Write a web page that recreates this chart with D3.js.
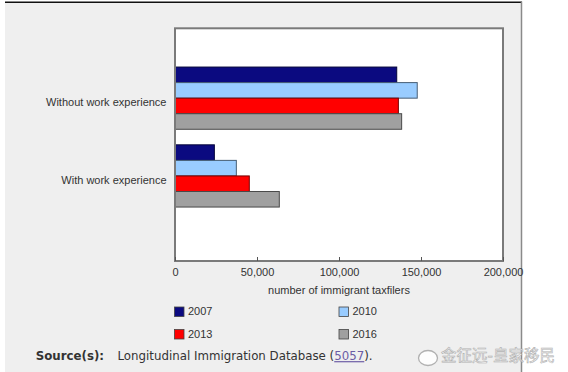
<!DOCTYPE html>
<html>
<head>
<meta charset="utf-8">
<script src="https://cdn.jsdelivr.net/npm/d3@7"></script>
<style>
  body { margin: 0; background: #fff; }
  svg { display: block; }
  .chart text { font-family: "Liberation Sans", Arial, sans-serif; font-size: 11px; fill: #333; }
  .src text { font-family: "DejaVu Sans", Verdana, sans-serif; font-size: 11.8px; fill: #333; }
</style>
</head>
<body>
<svg width="568" height="372"></svg>
<script>
// data
var categories = ["Without work experience", "With work experience"];
var years = ["2007", "2010", "2013", "2016"];
var values2007 = [135200, 24000];
var values2010 = [147700, 37400];
var values2013 = [136200, 45300];
var values2016 = [138200, 63600];
var xTicks = [0, 50000, 100000, 150000, 200000];
var colors = ["#0b0a80", "#99ccff", "#ff0000", "#a0a0a0"];
var xTitle = "number of immigrant taxfilers";

var series = [values2007, values2010, values2013, values2016];

var svg = d3.select("svg");

// panel background + borders
svg.append("rect")
    .attr("x", 5).attr("y", 2.5)
    .attr("width", 516.5).attr("height", 372)
    .attr("fill", "#efefef");
svg.append("line")
    .attr("x1", 5).attr("x2", 522).attr("y1", 2.2).attr("y2", 2.2)
    .attr("stroke", "#111").attr("stroke-width", 1.5);
svg.append("line")
    .attr("x1", 521.5).attr("x2", 521.5).attr("y1", 1.5).attr("y2", 372)
    .attr("stroke", "#8a8a8a").attr("stroke-width", 1.5);

var plot = {left: 175, right: 503, top: 28.3, bottom: 261};

var x = d3.scaleLinear().domain([0, 200000]).range([plot.left, plot.right]);

var y = d3.scaleBand()
    .domain(categories)
    .range([plot.top, plot.bottom])
    .paddingInner(0.2)
    .paddingOuter(0.596)
    .align(0.418);

var y1 = d3.scaleBand().domain(years).range([0, y.bandwidth()]);

var g = svg.append("g").attr("class", "chart");

g.append("rect")
    .attr("x", plot.left).attr("y", plot.top)
    .attr("width", plot.right - plot.left)
    .attr("height", plot.bottom - plot.top)
    .attr("fill", "#fff");

// bars
categories.forEach(function(cat, i) {
    var cg = g.append("g").attr("transform", "translate(0," + y(cat) + ")");
    cg.selectAll("rect")
        .data(years)
        .enter().append("rect")
        .attr("x", x(0))
        .attr("y", function(d) { return y1(d); })
        .attr("width", function(d, j) { return x(series[j][i]) - x(0); })
        .attr("height", y1.bandwidth())
        .attr("fill", function(d, j) { return colors[j]; })
        .attr("stroke", function(d, j) { return d3.color(colors[j]).darker(2.2); })
        .attr("stroke-width", 1);
});

// plot frame
g.append("rect")
    .attr("x", plot.left).attr("y", plot.top)
    .attr("width", plot.right - plot.left)
    .attr("height", plot.bottom - plot.top)
    .attr("fill", "none")
    .attr("stroke", "#7a7a7a")
    .attr("stroke-width", 2);

// x axis
var xAxis = d3.axisBottom(x)
    .tickValues(xTicks)
    .tickFormat(d3.format(","))
    .tickSizeInner(-4)
    .tickSizeOuter(0)
    .tickPadding(7);

var xg = g.append("g")
    .attr("transform", "translate(0," + plot.bottom + ")")
    .call(xAxis);
xg.select(".domain").remove();
xg.selectAll(".tick line").attr("stroke", "#555");
xg.selectAll(".tick text")
    .style("font-family", "Liberation Sans, Arial, sans-serif")
    .style("font-size", "11px").attr("fill", "#333");

g.append("text")
    .attr("x", (plot.left + plot.right) / 2)
    .attr("y", 290)
    .attr("dy", "0.35em")
    .attr("text-anchor", "middle")
    .text(xTitle);

// category labels
g.selectAll(".cat")
    .data(categories)
    .enter().append("text")
    .attr("class", "cat")
    .attr("x", 166.5)
    .attr("y", function(d) { return y(d) + y.bandwidth() / 2 + 4; })
    .attr("dy", "0.35em")
    .attr("text-anchor", "end")
    .text(function(d) { return d; });

// legend
var legend = g.selectAll(".leg")
    .data(years)
    .enter().append("g")
    .attr("class", "leg")
    .attr("transform", function(d, i) {
        return "translate(" + (i % 2 ? 339 : 174.5) + "," + (i < 2 ? 311.5 : 334) + ")";
    });
legend.append("rect")
    .attr("x", 0).attr("y", -4.5)
    .attr("width", 9.5).attr("height", 9.5)
    .attr("fill", function(d, i) { return colors[i]; })
    .attr("stroke", "#444").attr("stroke-width", 0.8);
legend.append("text")
    .attr("x", 13.5).attr("y", 0)
    .attr("dy", "0.35em")
    .text(function(d) { return d; });

// source line
var src = svg.append("g").attr("class", "src");
src.append("text")
    .attr("x", 35.7).attr("y", 356).attr("dy", "0.35em")
    .style("font-weight", "bold")
    .text("Source(s):");
var st = src.append("text")
    .attr("x", 117.5).attr("y", 356).attr("dy", "0.35em");
st.append("tspan").text("Longitudinal Immigration Database (");
st.append("tspan").style("fill", "#6b5ca5").style("text-decoration", "underline").text("5057");
st.append("tspan").text(").");

// watermark
var wm = svg.append("g").attr("opacity", 0.9);
wm.append("ellipse")
    .attr("cx", 428).attr("cy", 358).attr("rx", 9.5).attr("ry", 7.5)
    .attr("fill", "#fff").attr("stroke", "#aaa").attr("stroke-width", 1.3);
wm.append("text")
    .attr("x", 441).attr("y", 356).attr("dy", "0.35em")
    .style("font-family", "Noto Sans CJK SC, sans-serif")
    .style("font-size", "15.5px")
    .attr("fill", "#fff").attr("stroke", "#aaa").attr("stroke-width", 0.6)
    .text("金征远-皇家移民");
</script>
</body>
</html>
